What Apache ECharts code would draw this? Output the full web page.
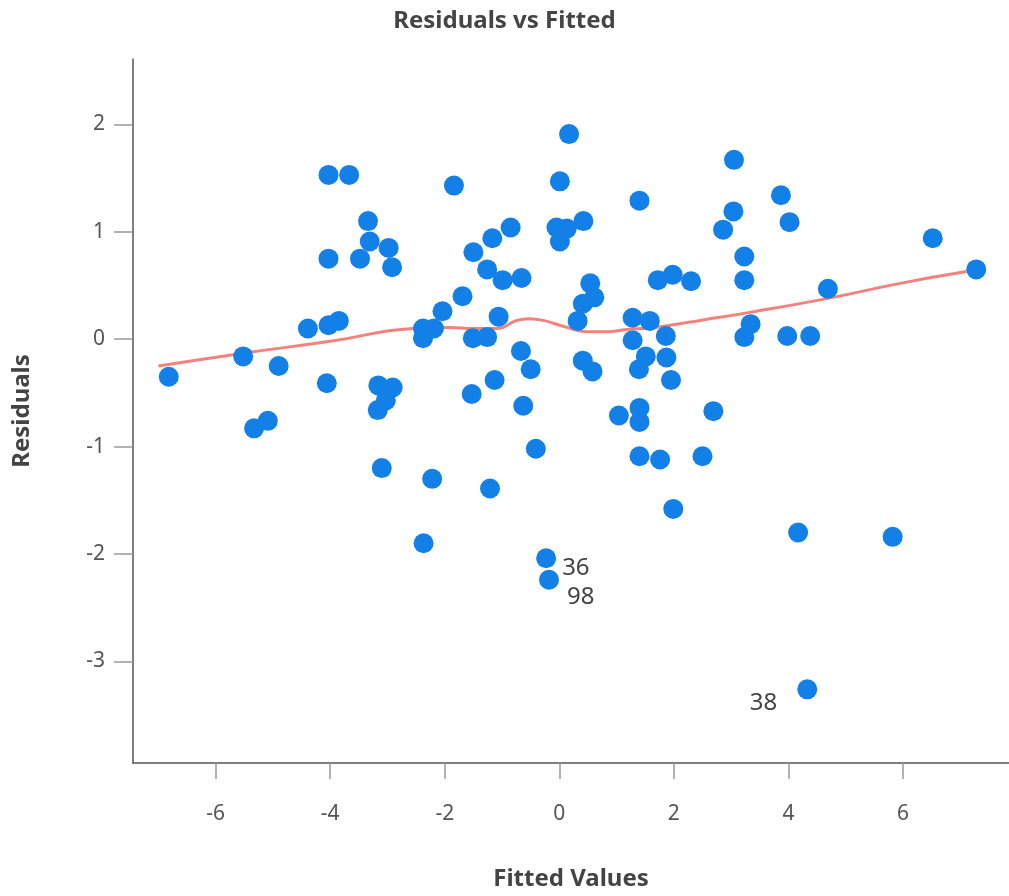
<!DOCTYPE html>
<html>
<head>
<meta charset="utf-8">
<script src="https://cdn.jsdelivr.net/npm/echarts@6/dist/echarts.min.js"></script>
<style>html,body{margin:0;padding:0;background:#fff}#c{width:1009px;height:896px}</style>
</head>
<body>
<div id="c"></div>
<script>
// Fitted values (x) and residuals (y)
const fitted = [
  -6.82,-5.52,-4.90,-4.39,-4.03,-3.85,-4.03,-3.67,-4.03,-3.48,
  -3.34,-3.31,-2.98,-2.92,-4.06,-3.16,-2.91,-3.03,-3.17,-5.09,
  -5.33,-3.10,-2.22,-2.37,-2.38,-2.19,-2.38,-2.04,-1.69,-1.84,
  -1.50,-1.51,-1.53,-1.26,-1.17,-0.85,-0.99,-0.66,-1.06,-1.26,
  -1.13,-0.67,-0.50,-0.63,-0.41,-1.21,0.17,0.01,-0.05,0.13,
  0.01,0.42,0.54,0.61,0.41,0.32,0.41,0.58,-0.23,-0.18,
  1.40,1.28,1.58,1.28,1.51,1.39,1.87,1.95,1.86,1.72,
  1.98,2.30,1.04,1.40,1.40,2.69,1.40,1.76,2.50,1.99,
  3.05,3.04,2.86,3.23,3.23,3.34,3.23,3.87,4.02,3.98,
  4.38,4.69,4.17,5.82,4.33,6.52,7.28
];
const residuals = [
  -0.35,-0.16,-0.25,0.10,0.13,0.17,1.53,1.53,0.75,0.75,
  1.10,0.91,0.85,0.67,-0.41,-0.43,-0.45,-0.57,-0.66,-0.76,
  -0.83,-1.20,-1.30,-1.90,0.10,0.10,0.01,0.26,0.40,1.43,
  0.81,0.01,-0.51,0.65,0.94,1.04,0.55,0.57,0.21,0.02,
  -0.38,-0.11,-0.28,-0.62,-1.02,-1.39,1.91,1.47,1.04,1.03,
  0.91,1.10,0.52,0.39,0.33,0.17,-0.20,-0.30,-2.04,-2.24,
  1.29,0.20,0.17,-0.01,-0.16,-0.28,-0.17,-0.38,0.03,0.55,
  0.60,0.54,-0.71,-0.64,-0.77,-0.67,-1.09,-1.12,-1.09,-1.58,
  1.67,1.19,1.02,0.77,0.55,0.14,0.02,1.34,1.09,0.03,
  0.03,0.47,-1.80,-1.84,-3.26,0.94,0.65
];
// Labelled outliers: index into the arrays above, and label text
const outlierIdx = [58, 59, 94];
const outlierLabels = ['36', '98', '38'];
// Smoothed (loess) trend line
const smoothX = [-7.00,-5.52,-4.00,-2.55,-1.91,-1.50,-1.09,-0.74,-0.54,-0.28,0.13,0.48,0.83,1.18,1.58,1.93,2.46,3.33,4.69,5.95,7.11];
const smoothY = [-0.25,-0.13,-0.02,0.10,0.11,0.10,0.10,0.175,0.19,0.175,0.11,0.07,0.07,0.09,0.105,0.13,0.175,0.25,0.38,0.52,0.63];
// Tick labels
const xTicks = [-6,-4,-2,0,2,4,6];
const yTicks = [-3,-2,-1,0,1,2];

const labelPos = {
  '36': {position: 'right', distance: 5, offset: [1, 10]},
  '98': {position: 'right', distance: 5, offset: [3, 17]},
  '38': {position: 'left', distance: 5, offset: [-15, 14]}
};

const points = fitted.map((x, i) => {
  const item = {value: [x, residuals[i]]};
  const k = outlierIdx.indexOf(i);
  if (k >= 0) {
    const lab = outlierLabels[k];
    item.label = Object.assign({
      show: true, formatter: lab, color: '#444', fontSize: 24,
      fontFamily: 'Noto Sans'
    }, labelPos[lab]);
  }
  return item;
});
const smooth = smoothX.map((x, i) => [x, smoothY[i]]);

const chart = echarts.init(document.getElementById('c'), null, {renderer: 'canvas'});
chart.setOption({
  animation: false,
  backgroundColor: '#fff',
  title: {
    text: 'Residuals vs Fitted', left: 'center', top: 4,
    textStyle: {fontSize: 24, fontWeight: 'bold', color: '#444', fontFamily: 'Noto Sans'}
  },
  grid: {left: 133, right: 0, top: 59, bottom: 130},
  xAxis: {
    type: 'value', min: -7.444, max: 7.852,
    name: 'Fitted Values', nameLocation: 'middle', nameGap: 104,
    nameTextStyle: {fontSize: 24, fontWeight: 'bold', color: '#444', fontFamily: 'Noto Sans'},
    splitLine: {show: false},
    axisLine: {show: true, onZero: false, lineStyle: {color: '#555', width: 1.5}},
    axisTick: {show: true, length: 16, customValues: xTicks, lineStyle: {color: '#999', width: 1.5}},
    axisLabel: {customValues: xTicks, margin: 41, fontSize: 21, color: '#555', fontFamily: 'Noto Sans'}
  },
  yAxis: {
    type: 'value', min: -3.946, max: 2.609,
    name: 'Residuals', nameLocation: 'middle', nameGap: 99, nameRotate: 90,
    nameTextStyle: {fontSize: 24, fontWeight: 'bold', color: '#444', fontFamily: 'Noto Sans'},
    splitLine: {show: false},
    axisLine: {show: true, onZero: false, lineStyle: {color: '#555', width: 1.5}},
    axisTick: {show: true, length: 19, customValues: yTicks, lineStyle: {color: '#999', width: 1.5}},
    axisLabel: {customValues: yTicks, margin: 28, fontSize: 21, color: '#555', fontFamily: 'Noto Sans'}
  },
  series: [
    {
      type: 'line', data: smooth, smooth: true, showSymbol: false, z: 1,
      lineStyle: {color: '#f4827c', width: 3}
    },
    {
      type: 'scatter', data: points, symbolSize: 20, z: 2,
      itemStyle: {color: '#1380e8', opacity: 1}
    }
  ]
});
</script>
</body>
</html>
